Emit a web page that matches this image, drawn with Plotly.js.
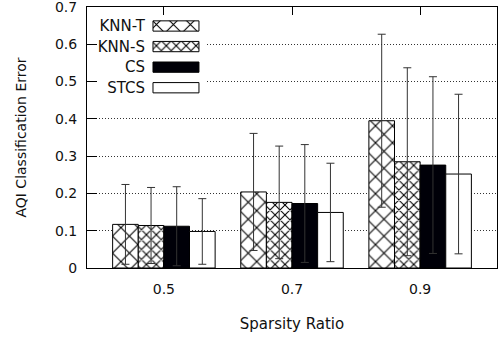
<!DOCTYPE html>
<html>
<head>
<meta charset="utf-8">
<script src="https://cdn.plot.ly/plotly-3.0.1.min.js"></script>
<style>html,body{margin:0;padding:0;background:#fff;}#chart{width:498px;height:338px;}</style>
</head>
<body>
<div id="chart"></div>
<script>
// Data
const categories = ["0.5", "0.7", "0.9"];
const seriesNames = ["KNN-T", "KNN-S", "CS", "STCS"];
const knnT = [0.117, 0.204, 0.395];
const knnTErr = [0.107, 0.157, 0.232];
const knnS = [0.114, 0.176, 0.285];
const knnSErr = [0.102, 0.151, 0.252];
const cs = [0.112, 0.173, 0.276];
const csErr = [0.106, 0.158, 0.237];
const stcs = [0.098, 0.149, 0.252];
const stcsErr = [0.088, 0.132, 0.214];
const yTickVals = [0, 0.1, 0.2, 0.3, 0.4, 0.5, 0.6, 0.7];
const yTickText = ["0", "0.1", "0.2", "0.3", "0.4", "0.5", "0.6", "0.7"];

const FONT = "DejaVu Sans, sans-serif";
const TXT = "#111";
const styles = [
  {color: "white", shape: "x", size: 12, solidity: 0.17},
  {color: "white", shape: "x", size: 7, solidity: 0.28},
  {color: "#000008", shape: "", size: 8, solidity: 0.3},
  {color: "white", shape: "", size: 8, solidity: 0.3}
];
const values = [knnT, knnS, cs, stcs];
const errs = [knnTErr, knnSErr, csErr, stcsErr];

function pat(s) {
  return s.shape ? {shape: s.shape, size: s.size, solidity: s.solidity, fgcolor: "black", bgcolor: "white"} : {shape: ""};
}

const traces = seriesNames.map((name, i) => ({
  type: "bar",
  name: name,
  x: categories,
  y: values[i],
  xaxis: "x", yaxis: "y",
  marker: {color: styles[i].color, pattern: pat(styles[i]), line: {color: "black", width: 1}},
  error_y: {type: "data", array: errs[i], visible: true, color: "#333", thickness: 1, width: 4},
  showlegend: false,
  hoverinfo: "skip"
}));

// Legend drawn as a small overlapping subplot (its own white background),
// swatches as horizontal bars and the series names as its tick labels
seriesNames.forEach((name, i) => {
  traces.push({
    type: "bar",
    orientation: "h",
    y: [name],
    x: [1],
    xaxis: "x2", yaxis: "y2",
    width: 0.5,
    marker: {color: styles[i].color, pattern: pat(styles[i]), line: {color: "black", width: 1}},
    showlegend: false,
    hoverinfo: "skip"
  });
});

const layout = {
  width: 498, height: 338,
  margin: {l: 87, r: 1, t: 7, b: 70},
  paper_bgcolor: "white", plot_bgcolor: "white",
  font: {family: FONT, size: 14, color: TXT},
  showlegend: false,
  barmode: "group", bargap: 0.2, bargroupgap: 0,
  xaxis: {
    type: "category", range: [-0.6, 2.6],
    showline: true, linecolor: "black", linewidth: 1, mirror: "ticks",
    ticks: "inside", ticklen: 8, tickcolor: "black", tickwidth: 1,
    showgrid: false, zeroline: false,
    tickfont: {family: FONT, size: 14, color: TXT},
    ticklabelstandoff: 8,
    title: {text: "Sparsity Ratio", font: {family: FONT, size: 15, color: TXT}, standoff: 22}
  },
  yaxis: {
    range: [0, 0.7], tickvals: yTickVals, ticktext: yTickText,
    showline: true, linecolor: "black", linewidth: 1, mirror: true,
    ticks: "inside", ticklen: 10, tickcolor: "black", tickwidth: 1,
    showgrid: true, gridcolor: "#333", griddash: "1px,2px", gridwidth: 1,
    zeroline: false,
    tickfont: {family: FONT, size: 14, color: TXT},
    ticklabelstandoff: 6, ticklabeloverflow: "allow",
    title: {text: "AQI Classification Error", font: {family: FONT, size: 14, color: TXT}, standoff: 25}
  },
  xaxis2: {
    domain: [0.0244, 0.2927], range: [-1.218, 1.175], anchor: "y2",
    visible: false, fixedrange: true
  },
  yaxis2: {
    domain: [0.644, 0.9655], anchor: "free", position: 0.161, type: "category",
    range: [3.592, -0.485],
    showline: false, showgrid: false, zeroline: false, ticks: "",
    tickfont: {family: FONT, size: 15, color: TXT},
    ticklabelstandoff: 8, fixedrange: true
  }
};

Plotly.newPlot("chart", traces, layout, {displayModeBar: false, staticPlot: true});
</script>
</body>
</html>
